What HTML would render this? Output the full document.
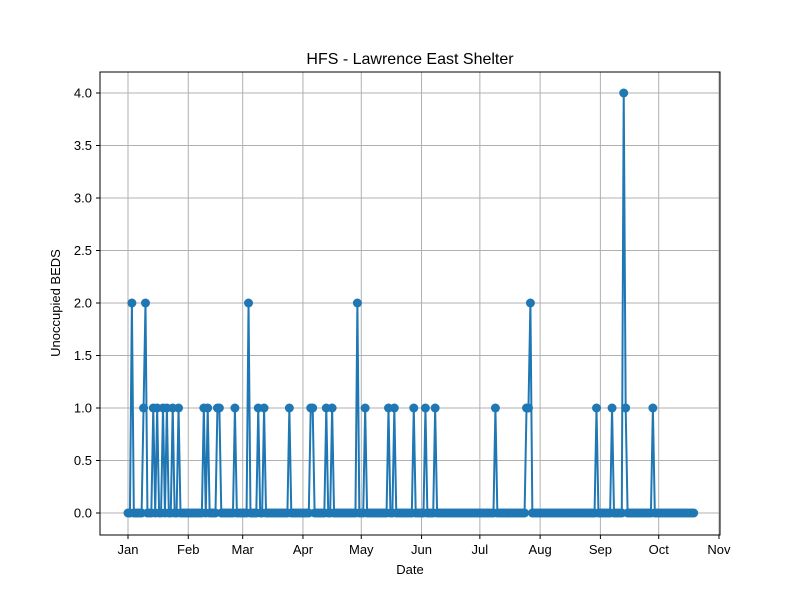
<!DOCTYPE html>
<html><head><meta charset="utf-8"><style>
body{margin:0;background:#fff}
svg{display:block;font-family:"Liberation Sans","DejaVu Sans",sans-serif}
</style></head><body>
<svg id="chart" width="800" height="600">
<rect width="800" height="600" fill="#fff"/>
<g id="grid"></g>
<g id="series"></g>
<rect x="100" y="72" width="620" height="463" fill="none" stroke="#000" stroke-width="1"/>
<g id="axes"></g>
<text x="410" y="64" text-anchor="middle" font-size="16">HFS - Lawrence East Shelter</text>
<text x="410" y="574" text-anchor="middle" font-size="13">Date</text>
<text x="60" y="303" text-anchor="middle" font-size="13" transform="rotate(-90 60 303)">Unoccupied BEDS</text>
</svg>
<script>
const monthLabels=["Jan","Feb","Mar","Apr","May","Jun","Jul","Aug","Sep","Oct","Nov"];
const monthDays=[0,31,59,90,120,151,181,212,243,273,304];
const yTicks=[0,0.5,1,1.5,2,2.5,3,3.5,4];
const lastDay=291;
const nonZeroDays=[2,8,9,13,15,18,20,23,26,39,41,46,47,55,62,67,70,83,94,95,102,105,118,122,134,137,147,153,158,189,205,206,207,241,249,255,256,270];
const nonZeroVals=[2,1,2,1,1,1,1,1,1,1,1,1,1,1,2,1,1,1,1,1,1,1,2,1,1,1,1,1,1,1,1,1,2,1,1,4,1,1];
const NS="http://www.w3.org/2000/svg";
const xs=d=>128+d*1.944;
const ys=v=>513-v*105;
function mk(t,a,p){const e=document.createElementNS(NS,t);for(const k in a)e.setAttribute(k,a[k]);p.appendChild(e);return e;}
const grid=document.getElementById('grid'),axes=document.getElementById('axes'),ser=document.getElementById('series');
monthDays.forEach((d,i)=>{
 const x=xs(d);
 const g=mk('line',{x1:x,x2:x,y1:72,y2:535,stroke:'#b0b0b0','stroke-width':1},grid);
 
 
 mk('line',{x1:x,x2:x,y1:535,y2:539,stroke:'#000'},axes);
 const t=mk('text',{x:x,y:554,'text-anchor':'middle','font-size':13},axes);
 t.textContent=monthLabels[i];
 
 
});
yTicks.forEach(v=>{
 const y=ys(v);
 const g=mk('line',{x1:100,x2:720,y1:y,y2:y,stroke:'#b0b0b0','stroke-width':1},grid);
 
 
 mk('line',{x1:96,x2:100,y1:y,y2:y,stroke:'#000'},axes);
 const t=mk('text',{x:92,y:y+4.5,'text-anchor':'end','font-size':13},axes);
 t.textContent=v.toFixed(1);
 
 
});
const vals=[];
for(let d=0;d<=lastDay;d++){const i=nonZeroDays.indexOf(d);vals.push(i>=0?nonZeroVals[i]:0);}
const pts=vals.map((v,d)=>xs(d)+','+ys(v)).join(' ');
const pl=mk('polyline',{points:pts,fill:'none',stroke:'#1f77b4','stroke-width':2,'stroke-linejoin':'round'},ser);


vals.forEach((v,d)=>{
 const c=mk('circle',{cx:xs(d),cy:ys(v),r:4.5,fill:'#1f77b4'},ser);
 
 
});
</script>
</body></html>
